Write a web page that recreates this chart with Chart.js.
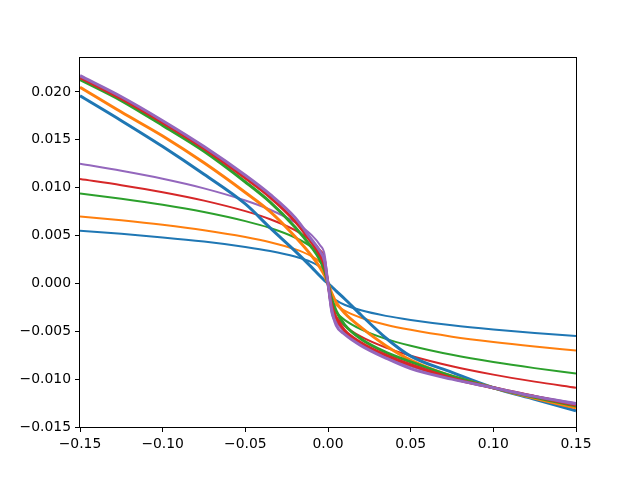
<!DOCTYPE html>
<html>
<head>
<meta charset="utf-8">
<script src="https://cdn.jsdelivr.net/npm/chart.js@4"></script>
<style>
  body { margin: 0; background: #fff; }
</style>
</head>
<body>
<canvas id="chart" width="640" height="480"></canvas>
<script>
'use strict'

const xValues = [-0.15, -0.125, -0.1, -0.075, -0.05, -0.035, -0.02, -0.01, -0.005, -0.002, 0,
                 0.002, 0.005, 0.01, 0.02, 0.035, 0.05, 0.075, 0.1, 0.125, 0.15];

// thin curves
const thinBlue   = [0.0055, 0.00518, 0.00481, 0.00437, 0.00381, 0.00339, 0.00281, 0.00223, 0.00177, 0.0013, 0,
                    -0.0013, -0.00177, -0.00223, -0.00281, -0.00339, -0.00381, -0.00437, -0.00481, -0.00518, -0.0055];
const thinOrange = [0.0070, 0.00659, 0.00612, 0.00556, 0.00485, 0.00431, 0.00358, 0.00284, 0.00225, 0.00166, 0,
                    -0.00166, -0.00225, -0.00284, -0.00358, -0.00431, -0.00485, -0.00556, -0.00612, -0.00659, -0.0070];
const thinGreen  = [0.0094, 0.00885, 0.00822, 0.00746, 0.00651, 0.00579, 0.0048, 0.00381, 0.00303, 0.00223, 0,
                    -0.00223, -0.00303, -0.00381, -0.0048, -0.00579, -0.00651, -0.00746, -0.00822, -0.00885, -0.0094];
const thinRed    = [0.0109, 0.01026, 0.00953, 0.00865, 0.00755, 0.00671, 0.00557, 0.00442, 0.00351, 0.00258, 0,
                    -0.00258, -0.00351, -0.00442, -0.00557, -0.00671, -0.00755, -0.00865, -0.00953, -0.01026, -0.0109];
const thinPurple = [0.0125, 0.01176, 0.01093, 0.00993, 0.00866, 0.0077, 0.00639, 0.00507, 0.00403, 0.00296, 0,
                    -0.00296, -0.00403, -0.00507, -0.00639, -0.0077, -0.00866, -0.00993, -0.01093, -0.01176, -0.0125];

// thick curves
const thickBlue   = [0.0196, 0.0170, 0.0143, 0.0114, 0.0083, 0.0058, 0.0034, 0.0017, 0.0008, 0.0003, 0,
                     -0.0003, -0.0008, -0.0016, -0.0033, -0.0057, -0.0076, -0.0093, -0.0109, -0.0121, -0.0133];
const thickOrange = [0.0205, 0.0179, 0.0154, 0.0126, 0.0095, 0.0075, 0.0049, 0.0029, 0.0017, 0.0008, 0,
                     -0.0009, -0.0020, -0.0031, -0.0046, -0.0065, -0.0080, -0.0097, -0.0109, -0.0120, -0.0130];
const thickGreen  = [0.0213, 0.0191, 0.0165, 0.0138, 0.0106, 0.0085, 0.0059, 0.0038, 0.0025, 0.0013, 0,
                     -0.0015, -0.0029, -0.0043, -0.0058, -0.0072, -0.0082, -0.0097, -0.0109, -0.0119, -0.0128];
const thickRed    = [0.0215, 0.0193, 0.0168, 0.0141, 0.0110, 0.0090, 0.0065, 0.0043, 0.0030, 0.0018, 0,
                     -0.0021, -0.0036, -0.0049, -0.0062, -0.0075, -0.0085, -0.0099, -0.0109, -0.0118, -0.0127];
const thickPurple = [0.0217, 0.0195, 0.0170, 0.0143, 0.0113, 0.0093, 0.0069, 0.0046, 0.0034, 0.0023, 0,
                     -0.0025, -0.0044, -0.0053, -0.0065, -0.0078, -0.0089, -0.0100, -0.0109, -0.0118, -0.0126];

const xTicks = [-0.15, -0.10, -0.05, 0.00, 0.05, 0.10, 0.15];
const yTicks = [-0.015, -0.010, -0.005, 0.000, 0.005, 0.010, 0.015, 0.020];

const colors = ['#1f77b4', '#ff7f0e', '#2ca02c', '#d62728', '#9467bd'];
const thinSeries = [thinBlue, thinOrange, thinGreen, thinRed, thinPurple];
const thickSeries = [thickBlue, thickOrange, thickGreen, thickRed, thickPurple];

function fmt(v, digits) {
    const s = Math.abs(v).toFixed(digits);
    return (v < -1e-12 ? '\u2212' : '') + s;
}

const datasets = [];
const allSeries = thinSeries.concat(thickSeries);
allSeries.forEach((ys, k) => {
    datasets.push({
        data: xValues.map((x, i) => ({ x: x, y: ys[i] })),
        borderColor: colors[k % 5],
        borderWidth: k < 5 ? 2 : 3,
        pointRadius: 0,
        fill: false,
        cubicInterpolationMode: 'monotone',
        order: 10 - k
    });
});

// axes box like matplotlib spines
const frame = {
    id: 'frame',
    afterDatasetsDraw(chart) {
        const a = chart.chartArea;
        const c = chart.ctx;
        c.save();
        c.strokeStyle = '#000';
        c.lineWidth = 1;
        c.strokeRect(Math.round(a.left) - 0.5, Math.round(a.top) - 0.5,
                     Math.round(a.right - a.left) + 1, Math.round(a.bottom - a.top) + 1);
        c.restore();
    }
};

const font = { family: 'DejaVu Sans', size: 13.9 };

const ctx = document.getElementById('chart').getContext('2d');
const chart = new Chart(ctx, {
    type: 'line',
    data: { datasets: datasets },
    options: {
        responsive: false,
        animation: false,
        layout: { padding: { left: 0, right: 64, top: 58, bottom: 0 } },
        plugins: { legend: { display: false }, tooltip: { enabled: false } },
        scales: {
            x: {
                type: 'linear',
                min: -0.15,
                max: 0.15,
                afterBuildTicks: s => { s.ticks = xTicks.map(v => ({ value: v })); },
                afterFit: s => { s.height = 53; },
                grid: { drawOnChartArea: false, drawTicks: true, tickLength: 5, color: '#000' },
                border: { display: false },
                ticks: { color: '#000', font: font, padding: 4, maxRotation: 0,
                         callback: v => fmt(v, 2) }
            },
            y: {
                type: 'linear',
                min: -0.015,
                max: 0.02355,
                afterBuildTicks: s => { s.ticks = yTicks.map(v => ({ value: v })); },
                afterFit: s => { s.width = 80; },
                grid: { drawOnChartArea: false, drawTicks: true, tickLength: 5, color: '#000' },
                border: { display: false },
                ticks: { color: '#000', font: font, padding: 4,
                         callback: v => fmt(v, 3) }
            }
        }
    },
    plugins: [frame]
});
</script>
</body>
</html>
